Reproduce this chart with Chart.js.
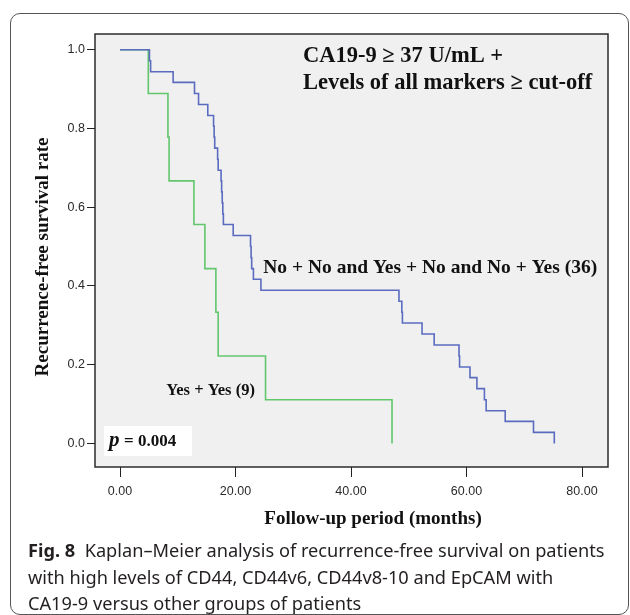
<!DOCTYPE html>
<html>
<head>
<meta charset="utf-8">
<script src="https://cdn.jsdelivr.net/npm/chart.js@4.4.0/dist/chart.umd.min.js"></script>
<style>
    html, body { margin: 0; padding: 0; background: #fff; }
    body { width: 630px; height: 615px; position: relative; overflow: hidden; }
    #frame { position: absolute; left: 10px; top: 13px; width: 617px; height: 600px; border: 1px solid #555; border-radius: 10px; }
    #wrap { position: absolute; left: 0; top: 0; width: 630px; height: 545px; }
    #caption { position: absolute; left: 28px; top: 537px; white-space: nowrap; font-family: "Noto Sans", sans-serif; font-size: 18.2px; line-height: 26.5px; color: #231f20; }
    #caption b { font-weight: 700; }
</style>
</head>
<body>
<div id="frame"></div>
<div id="wrap"><canvas id="km"></canvas></div>
<div id="caption"><b>Fig. 8</b>&nbsp; Kaplan–Meier analysis of recurrence-free survival on patients<br>with high levels of CD44, CD44v6, CD44v8-10 and EpCAM with<br>CA19-9 versus other groups of patients</div>
<script>
// follow-up times (months) and survival values
const otherTimes = [0, 5.1, 5.3, 9.2, 12.9, 13.6, 15.2, 16.2, 16.3, 16.4, 16.9, 17.0, 17.5, 17.6, 17.7, 17.8, 17.9,
    19.6, 22.6, 22.7, 22.8, 23.1, 24.4, 48.3, 48.8, 48.9, 52.3, 54.4, 58.7, 58.8, 60.6, 61.8, 63.1, 63.4, 66.7, 71.6, 75.2];
const otherSurv = [1.0, 0.972, 0.944, 0.917, 0.889, 0.861, 0.833, 0.806, 0.778, 0.750, 0.722, 0.694, 0.667, 0.639, 0.611, 0.583, 0.556,
    0.528, 0.500, 0.472, 0.444, 0.417, 0.389, 0.361, 0.333, 0.306, 0.278, 0.250, 0.222, 0.194, 0.167, 0.139, 0.111, 0.083, 0.056, 0.028, 0.0];

const yesTimes = [0, 4.9, 8.3, 8.5, 12.8, 14.7, 16.6, 17.0, 25.2, 47.1];
const yesSurv = [1.0, 0.889, 0.778, 0.667, 0.556, 0.444, 0.333, 0.222, 0.111, 0.0];

const xTicks = [0, 20, 40, 60, 80];
const yTicks = [0, 0.2, 0.4, 0.6, 0.8, 1.0];

const otherLabel = "No + No and Yes + No and No + Yes (36)";
const yesLabel = "Yes + Yes (9)";
const titleLines = ["CA19-9 \u2265 37 U/mL +", "Levels of all markers \u2265 cut-off"];

const serif = '"Liberation Serif", "Times New Roman", serif';
const sans = '"Liberation Sans", Arial, sans-serif';

function toPoints(times, surv) {
    return times.map((t, i) => ({ x: t, y: surv[i] }));
}

const plotDecor = {
    id: "plotDecor",
    beforeDraw(chart) {
        const { ctx, chartArea: a } = chart;
        ctx.save();
        ctx.fillStyle = "#f0f0f0";
        ctx.fillRect(a.left, a.top, a.right - a.left, a.bottom - a.top);
        ctx.restore();
    },
    afterDraw(chart) {
        const { ctx, chartArea: a, scales } = chart;
        ctx.save();
        ctx.strokeStyle = "#2b2b2b";
        ctx.lineWidth = 1.5;
        ctx.strokeRect(a.left, a.top, a.right - a.left, a.bottom - a.top);

        ctx.fillStyle = "#111";
        ctx.textBaseline = "alphabetic";
        ctx.textAlign = "left";
        ctx.font = `bold 22.5px ${serif}`;
        ctx.fillText(titleLines[0], 303, 62);
        ctx.fillText(titleLines[1], 303, 88.5);

        ctx.font = `bold 19.5px ${serif}`;
        ctx.fillText(otherLabel, scales.x.getPixelForValue(24.8), 273);
        ctx.font = `bold 16.5px ${serif}`;
        ctx.fillText(yesLabel, scales.x.getPixelForValue(8.0), 395);

        // p-value box
        ctx.fillStyle = "#fff";
        ctx.fillRect(104, 426, 88, 30);
        ctx.fillStyle = "#111";
        ctx.font = `italic bold 21px ${serif}`;
        ctx.fillText("p", 109, 446);
        ctx.font = `bold 17px ${serif}`;
        ctx.fillText("= 0.004", 124, 446);

        // axis titles
        ctx.font = `bold 19px ${serif}`;
        ctx.textAlign = "center";
        ctx.fillText("Follow-up period (months)", 373, 524);
        ctx.translate(48, 257);
        ctx.rotate(-Math.PI / 2);
        ctx.fillText("Recurrence-free survival rate", 0, 0);
        ctx.restore();
    }
};

new Chart(document.getElementById("km"), {
    type: "line",
    data: {
        datasets: [{
            label: otherLabel,
            data: toPoints(otherTimes, otherSurv),
            borderColor: "#5b6cc0",
            borderWidth: 1.6,
            stepped: "before",
            pointRadius: 0,
            fill: false
        }, {
            label: yesLabel,
            data: toPoints(yesTimes, yesSurv),
            borderColor: "#62c66c",
            borderWidth: 1.6,
            stepped: "before",
            pointRadius: 0,
            fill: false
        }]
    },
    options: {
        responsive: true,
        maintainAspectRatio: false,
        animation: false,
        layout: { padding: { left: 0, right: 22, top: 34, bottom: 0 } },
        plugins: { legend: { display: false }, tooltip: { enabled: false } },
        scales: {
            x: {
                type: "linear",
                min: -4.33,
                max: 84.5,
                afterBuildTicks: s => { s.ticks = xTicks.map(v => ({ value: v })); },
                afterFit: s => { s.height = 78; },
                border: { display: false },
                grid: { drawOnChartArea: false, drawTicks: true, tickLength: 10, color: "#222", lineWidth: 1 },
                ticks: { padding: 7, color: "#2a2a2a", font: { family: sans, size: 12.5 }, callback: v => v.toFixed(2) }
            },
            y: {
                min: -0.06,
                max: 1.04,
                afterBuildTicks: s => { s.ticks = yTicks.map(v => ({ value: v })); },
                afterFit: s => { s.width = 95; },
                border: { display: false },
                grid: { drawOnChartArea: false, drawTicks: true, tickLength: 8, color: "#222", lineWidth: 1 },
                ticks: { padding: 2, color: "#2a2a2a", font: { family: sans, size: 12.5 }, callback: v => v.toFixed(1) }
            }
        }
    },
    plugins: [plotDecor]
});
</script>
</body>
</html>
